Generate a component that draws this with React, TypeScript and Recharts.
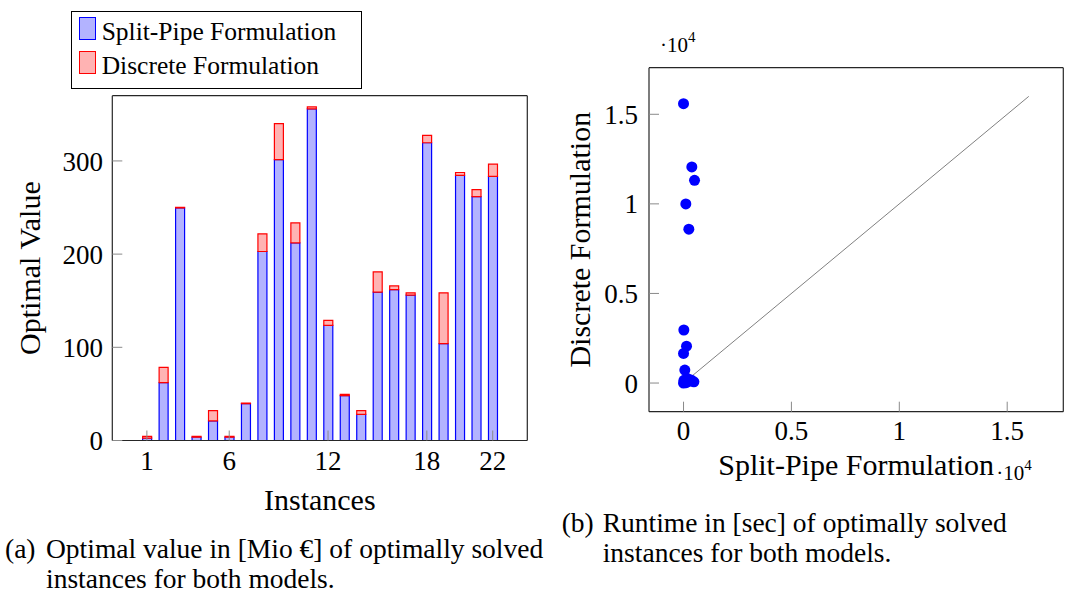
import React from 'react';
import { BarChart, Bar, XAxis, YAxis, Legend, ScatterChart, Scatter, Label } from 'recharts';

const FONT = 'Liberation Serif';

// ---------- Panel (a): optimal values ----------
const instanceIds = [1, 2, 3, 4, 5, 6, 7, 8, 9, 10, 11, 12, 13, 14, 15, 16, 17, 18, 19, 20, 21, 22];
const splitPipeValues = [2.5, 62, 249.5, 3.5, 21, 3.5, 39.6, 202.8, 301.5, 212, 355.8, 123.5, 48.2, 28, 159.3, 161.8, 156.1, 319.5, 104, 284.6, 261.8, 283.4];
const discreteExtraValues = [2, 16.5, 0.8, 1, 11, 1, 0.6, 19, 38.5, 21.5, 2.2, 5.5, 1.4, 4, 21.7, 4.1, 2.4, 8, 54.5, 3, 7.5, 13.2];
const instanceTicks = [1, 6, 12, 18, 22];
const valueTicks = [0, 100, 200, 300];
const instanceDomain = [-1.1, 24.1];
const valueDomain = [0, 370];
const seriesNames = ['Split-Pipe Formulation', 'Discrete Formulation'];
const seriesFills = ['#b3b3ff', '#ffb3b3'];
const seriesStrokes = ['#0000ff', '#ff0000'];

// ---------- Panel (b): runtimes ----------
const runtimeSplitPipe = [0, 385, 510, 107, 246, 15, 139, 0, 60, 0, 20, 80, 180, 250, 350, 480, 120];
const runtimeDiscrete = [15590, 12060, 11315, 9995, 8585, 2960, 2060, 1650, 725, 0, 150, 60, 250, 100, 170, 70, 20];
const runtimeTicks = [0, 5000, 10000, 15000];
const runtimeDomain = [-1600, 17600];
const diagonalX = [0, 16000];
const diagonalY = [0, 16000];

const captionA = ['Optimal value in [Mio €] of optimally solved', 'instances for both models.'];
const captionB = ['Runtime in [sec] of optimally solved', 'instances for both models.'];

const barData = instanceIds.map((id, i) => ({
  instance: id,
  split: splitPipeValues[i],
  discrete: discreteExtraValues[i],
}));
const runtimeData = runtimeSplitPipe.map((x, i) => ({ x, y: runtimeDiscrete[i] }));
const diagonalData = diagonalX.map((x, i) => ({ x, y: diagonalY[i] }));

const FRAME = '#262626';
const TICK = '#8a8a8a';
const LABEL_SIZE = 30;
const tickStyle = { fill: '#000', fontSize: 27, fontFamily: FONT };

const LegendBox = () => (
  <div
    style={{
      position: 'relative',
      width: 291,
      height: 78,
      border: '1px solid #000',
      boxSizing: 'border-box',
      background: '#fff',
      fontFamily: FONT,
      fontSize: 25.5,
      color: '#000',
    }}
  >
    {seriesNames.map((name, i) => (
      <React.Fragment key={name}>
        <div
          style={{
            position: 'absolute',
            left: 7,
            top: 5 + i * 34,
            width: 17,
            height: 23,
            background: seriesFills[i],
            border: `1.3px solid ${seriesStrokes[i]}`,
            boxSizing: 'border-box',
          }}
        />
        <div
          style={{
            position: 'absolute',
            left: 30,
            top: 8 + i * 34,
            lineHeight: '23px',
            whiteSpace: 'nowrap',
          }}
        >
          {name}
        </div>
      </React.Fragment>
    ))}
  </div>
);

const verticalLabel = (text: string, dx: number) => (props: any) => {
  const vb = props.viewBox || { x: 0, y: 0, width: 0, height: 0 };
  const x = vb.x + dx;
  const cy = vb.y + vb.height / 2;
  return (
    <text
      x={x}
      y={cy}
      transform={`rotate(-90 ${x} ${cy})`}
      textAnchor="middle"
      fontFamily={FONT}
      fontSize={LABEL_SIZE}
      fill="#000"
    >
      {text}
    </text>
  );
};

const horizontalLabel = (text: string, dy: number) => (props: any) => {
  const vb = props.viewBox || { x: 0, y: 0, width: 0, height: 0 };
  return (
    <text
      x={vb.x + vb.width / 2}
      y={vb.y + dy}
      textAnchor="middle"
      fontFamily={FONT}
      fontSize={LABEL_SIZE}
      fill="#000"
    >
      {text}
    </text>
  );
};

const scaledLabel = (text: string, dy: number) => (props: any) => {
  const vb = props.viewBox || { x: 0, y: 0, width: 0, height: 0 };
  const cx = vb.x + vb.width / 2;
  const y = vb.y + dy;
  return (
    <g>
      <text x={cx} y={y} textAnchor="middle" fontFamily={FONT} fontSize={LABEL_SIZE} fill="#000">
        {text}
      </text>
      <text x={cx + 140} y={y + 5} fontFamily={FONT} fontSize={21} fill="#000">
        ·10
        <tspan fontSize={15} dy={-10}>4</tspan>
      </text>
    </g>
  );
};

const topMultiplier = (props: any) => {
  const vb = props.viewBox || { x: 0, y: 0, width: 0, height: 0 };
  return (
    <text x={vb.x + 11} y={vb.y - 15} fontFamily={FONT} fontSize={21} fill="#000">
      ·10
      <tspan fontSize={15} dy={-10}>4</tspan>
    </text>
  );
};

const Caption = ({ tag, lines, left, top }: { tag: string; lines: string[]; left: number; top: number }) => (
  <div
    style={{
      position: 'absolute',
      left,
      top,
      display: 'flex',
      fontFamily: FONT,
      fontSize: 27.5,
      lineHeight: '30px',
      color: '#000',
      whiteSpace: 'nowrap',
    }}
  >
    <div style={{ width: 41 }}>{tag}</div>
    <div>
      {lines.map((l) => (
        <div key={l}>{l}</div>
      ))}
    </div>
  </div>
);

const Dot = (p: any) => <circle cx={p.cx} cy={p.cy} r={5.5} fill="#0000ff" />;
const NoDot = () => <g />;

export default function App() {
  return (
    <div style={{ position: 'absolute', left: 0, top: 0, width: 1066, height: 595, background: '#fff', overflow: 'hidden', fontFamily: FONT }}>
      <div style={{ position: 'absolute', left: 0, top: 0 }}>
        <BarChart
          width={560}
          height={595}
          data={barData}
          margin={{ top: 94.7, right: 31.7, bottom: 74.5, left: 12.3 }}
        >
          <XAxis
            xAxisId="bottom"
            dataKey="instance"
            type="number"
            domain={instanceDomain}
            allowDataOverflow
            ticks={instanceTicks}
            interval={0}
            height={80}
            tickSize={-10}
            tickMargin={20.3}
            tick={tickStyle}
            tickLine={{ stroke: TICK }}
            axisLine={{ stroke: FRAME, strokeWidth: 1.2 }}
          >
            <Label content={horizontalLabel('Instances', 69.5)} />
          </XAxis>
          <XAxis
            xAxisId="top"
            orientation="top"
            type="number"
            domain={instanceDomain}
            allowDataOverflow
            ticks={instanceTicks}
            interval={0}
            height={1}
            tickSize={-10}
            tick={false}
            tickLine={{ stroke: TICK }}
            axisLine={{ stroke: FRAME, strokeWidth: 1.2 }}
          />
          <YAxis
            yAxisId="left"
            type="number"
            domain={valueDomain}
            allowDataOverflow
            ticks={valueTicks}
            interval={0}
            width={100}
            tickSize={-10}
            tickMargin={19.3}
            tick={tickStyle}
            tickLine={{ stroke: TICK }}
            axisLine={{ stroke: FRAME, strokeWidth: 1.2 }}
          >
            <Label content={verticalLabel('Optimal Value', 28)} />
          </YAxis>
          <YAxis
            yAxisId="right"
            orientation="right"
            type="number"
            domain={valueDomain}
            allowDataOverflow
            ticks={valueTicks}
            interval={0}
            width={1}
            tickSize={-10}
            tick={false}
            tickLine={{ stroke: TICK }}
            axisLine={{ stroke: FRAME, strokeWidth: 1.2 }}
          />
          <Legend
            layout="vertical"
            align="center"
            verticalAlign="middle"
            content={() => <LegendBox />}
            wrapperStyle={{ left: 70.7, top: 10.7, width: 291, height: 78, right: 'auto', bottom: 'auto' }}
          />
          <Bar
            xAxisId="bottom"
            yAxisId="left"
            dataKey="split"
            name={seriesNames[0]}
            stackId="a"
            barSize={9}
            fill={seriesFills[0]}
            stroke={seriesStrokes[0]}
            strokeWidth={1.2}
            isAnimationActive={false}
          />
          <Bar
            xAxisId="bottom"
            yAxisId="left"
            dataKey="discrete"
            name={seriesNames[1]}
            stackId="a"
            barSize={9}
            fill={seriesFills[1]}
            stroke={seriesStrokes[1]}
            strokeWidth={1.2}
            isAnimationActive={false}
          />
        </BarChart>
      </div>

      <div style={{ position: 'absolute', left: 560, top: 0 }}>
        <ScatterChart width={506} height={595} margin={{ top: 66.7, right: 1.7, bottom: 103.3, left: 9 }}>
          <XAxis
            xAxisId="bottom"
            dataKey="x"
            type="number"
            domain={runtimeDomain}
            allowDataOverflow
            ticks={runtimeTicks}
            interval={0}
            height={80}
            tickSize={-10}
            tickMargin={19.1}
            tick={tickStyle}
            tickFormatter={(v: number) => String(v / 10000)}
            tickLine={{ stroke: TICK }}
            axisLine={{ stroke: FRAME, strokeWidth: 1.2 }}
          >
            <Label content={scaledLabel('Split-Pipe Formulation', 63.3)} />
          </XAxis>
          <XAxis
            xAxisId="top"
            orientation="top"
            type="number"
            domain={runtimeDomain}
            allowDataOverflow
            ticks={runtimeTicks}
            interval={0}
            height={1}
            tickSize={-10}
            tick={false}
            tickLine={{ stroke: TICK }}
            axisLine={{ stroke: FRAME, strokeWidth: 1.2 }}
          >
            <Label content={topMultiplier} />
          </XAxis>
          <YAxis
            yAxisId="left"
            dataKey="y"
            type="number"
            domain={runtimeDomain}
            allowDataOverflow
            ticks={runtimeTicks}
            interval={0}
            width={80}
            tickSize={-10}
            tickMargin={21}
            tick={tickStyle}
            tickFormatter={(v: number) => String(v / 10000)}
            tickLine={{ stroke: TICK }}
            axisLine={{ stroke: FRAME, strokeWidth: 1.2 }}
          >
            <Label content={verticalLabel('Discrete Formulation', 21)} />
          </YAxis>
          <YAxis
            yAxisId="right"
            orientation="right"
            type="number"
            domain={runtimeDomain}
            allowDataOverflow
            ticks={runtimeTicks}
            interval={0}
            width={1}
            tickSize={-10}
            tick={false}
            tickLine={{ stroke: TICK }}
            axisLine={{ stroke: FRAME, strokeWidth: 1.2 }}
          />
          <Scatter
            xAxisId="bottom"
            yAxisId="left"
            data={diagonalData}
            line={{ stroke: '#808080', strokeWidth: 1 }}
            shape={NoDot}
            isAnimationActive={false}
          />
          <Scatter
            xAxisId="bottom"
            yAxisId="left"
            data={runtimeData}
            shape={Dot}
            isAnimationActive={false}
          />
        </ScatterChart>
      </div>

      <Caption tag="(a)" lines={captionA} left={5} top={534} />
      <Caption tag="(b)" lines={captionB} left={561.7} top={507.7} />
    </div>
  );
}
